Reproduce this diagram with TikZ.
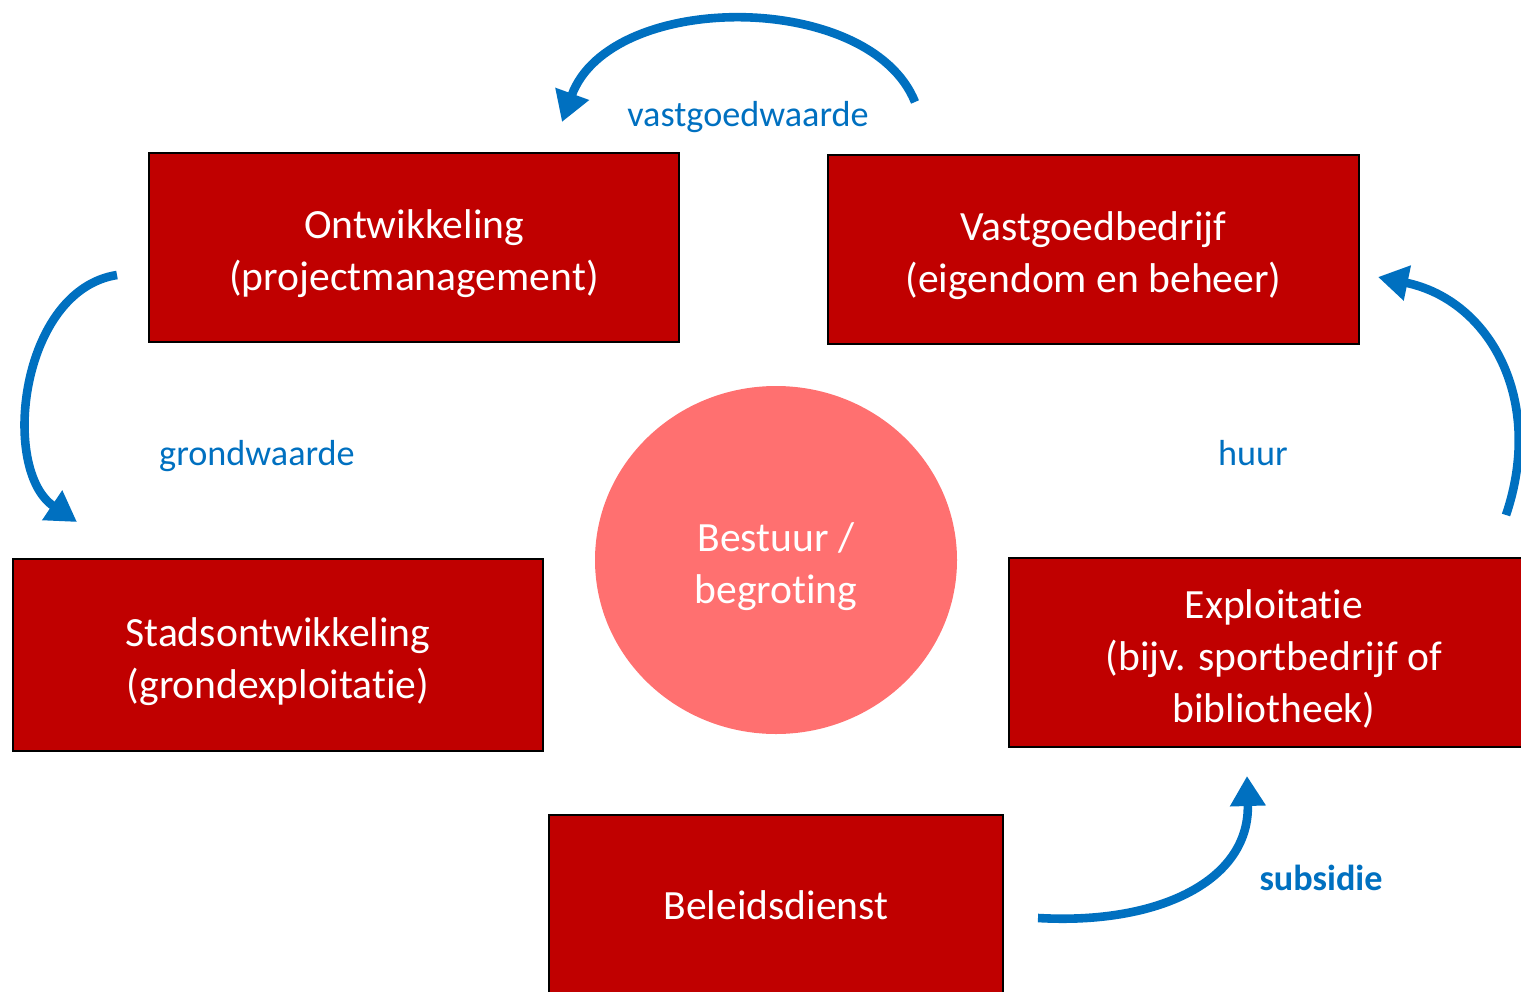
\documentclass[tikz,border=0pt]{standalone}
\usepackage{fontspec}
\setmainfont{Carlito}[Ligatures=NoCommon]
\usetikzlibrary{positioning,arrows.meta,shapes.geometric}

\definecolor{boxred}{HTML}{C00000}
\definecolor{discred}{HTML}{FF7070}
\definecolor{flowblue}{HTML}{0070C0}

\newcommand{\liftline}{\rule{0pt}{21pt}}

\tikzset{
  unitbox/.style={draw=black,line width=1pt,fill=boxred,text=white,align=center,
    minimum width=265pt,minimum height=94.5pt,inner sep=0pt,
    font=\fontsize{20.8}{26}\selectfont},
  flow/.style={draw=flowblue,line width=4.3pt,-{Triangle[length=15pt,width=17pt]}},
  flowlabel/.style={text=flowblue,font=\fontsize{18.1}{22}\selectfont}
}

\begin{document}
\begin{tikzpicture}[x=0.5pt,y=-0.5pt]

 \useasboundingbox (0,0) rectangle (1521,991);
 \clip (0,0) rectangle (1521,991);

 \coordinate (W) at (915,102);
 \coordinate (W') at (562,122);
 \coordinate (G) at (117,275);
 \coordinate (G') at (77,522);
 \coordinate (H) at (1506,515);
 \coordinate (H') at (1378,277);
 \coordinate (S) at (1038,918);
 \coordinate (S') at (1247,776);

\node[unitbox] (ontw) at (414,247.5) {\liftline Ontwikkeling\\(projectmanagement)};
\node[unitbox,minimum width=265.5pt] (vast) at (1093.5,249.5) {\liftline Vastgoedbedrijf\\(eigendom en beheer)};
\node[unitbox,minimum height=96pt] (stad) at (278,655) {\liftline Stadsontwikkeling\\(grondexploitatie)};
\node[unitbox] (expl) at (1274,652.5) {\liftline Exploitatie\\(bijv. sportbedrijf of\\bibliotheek)};
\node[unitbox,minimum width=227pt] (beleid) at (776,909.5) {Beleidsdienst\rule[-4pt]{0pt}{4pt}};

\node[ellipse,fill=discred,minimum width=181pt,minimum height=174pt,inner sep=0pt,
  text=white,align=center,font=\fontsize{20.8}{26}\selectfont] (bestuur) at (776,560) {\liftline Bestuur /\\begroting};

\draw[flow] (W) .. controls (870,-10) and (610,-10) .. (W');
\draw[flow] (G) .. controls (20,290) and (0,470) .. (G');
\draw[flow] (H) .. controls (1545,400) and (1490,300) .. (H');
\draw[flow] (S) .. controls (1160,925) and (1250,880) .. (S');

\node[flowlabel] (lw) at (748,117) {vastgoedwaarde};
\node[flowlabel] (lg) at (257,456) {grondwaarde};
\node[flowlabel] (lh) at (1253,453) {huur};
\node[flowlabel,font=\fontsize{18.1}{22}\selectfont\bfseries] (ls) at (1321,878) {subsidie};

\end{tikzpicture}
\end{document}
